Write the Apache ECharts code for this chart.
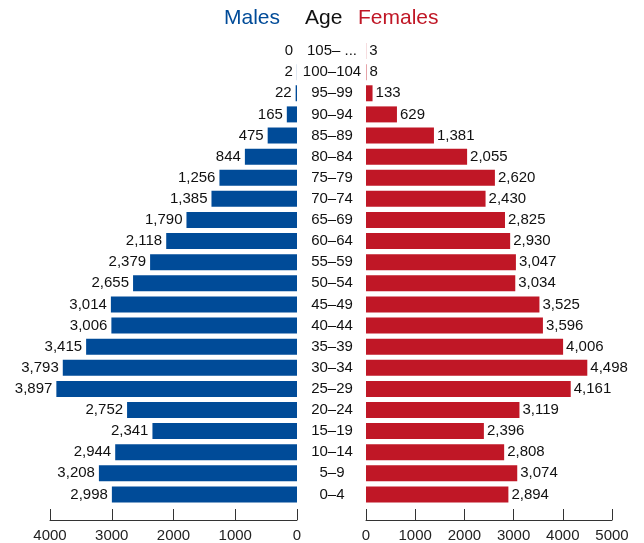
<!DOCTYPE html>
<html>
<head>
<meta charset="utf-8">
<script src="https://cdn.jsdelivr.net/npm/echarts@6/dist/echarts.min.js"></script>
<style>
html,body{margin:0;padding:0;background:#fff;}
#c{width:644px;height:543px;}
</style>
</head>
<body>
<div id="c"></div>
<script>
var ageGroups = ['0–4','5–9','10–14','15–19','20–24','25–29','30–34','35–39','40–44','45–49','50–54','55–59','60–64','65–69','70–74','75–79','80–84','85–89','90–94','95–99','100–104','105– ...'];
var males = [2998,3208,2944,2341,2752,3897,3793,3415,3006,3014,2655,2379,2118,1790,1385,1256,844,475,165,22,2,0];
var females = [2894,3074,2808,2396,3119,4161,4498,4006,3596,3525,3034,3047,2930,2825,2430,2620,2055,1381,629,133,8,3];
var maleTicks = [0,1000,2000,3000,4000];
var femaleTicks = [0,1000,2000,3000,4000,5000];

var FONT = "'Liberation Sans', Arial, Helvetica, sans-serif";
var BLUE = '#004b98';
var RED = '#c01726';
function fmt(v){ return String(v).replace(/\B(?=(\d{3})+(?!\d))/g, ','); }

var chart = echarts.init(document.getElementById('c'), null, {renderer:'canvas'});
var axisCommon = {
  type:'value', position:'bottom', offset:15,
  axisLine:{show:true, lineStyle:{color:'#333', width:1}},
  axisTick:{show:true, inside:true, length:11, lineStyle:{color:'#333'}},
  axisLabel:{color:'#222', fontSize:15, fontFamily:FONT, margin:8, formatter:function(v){return String(v);}},
  splitLine:{show:false}
};
chart.setOption({
  animation:false,
  textStyle:{fontFamily:FONT},
  title:[
    {text:'Males', left:224, top:8, padding:0, textStyle:{color:BLUE, fontSize:21, fontWeight:'normal', fontFamily:FONT}},
    {text:'Age', left:305, top:8, padding:0, textStyle:{color:'#111', fontSize:21, fontWeight:'normal', fontFamily:FONT}},
    {text:'Females', left:358, top:8, padding:0, textStyle:{color:RED, fontSize:21, fontWeight:'normal', fontFamily:FONT}}
  ],
  grid:[
    {left:50, right:347, top:40.5, bottom:37},
    {left:366, right:32, top:40.5, bottom:37}
  ],
  xAxis:[
    Object.assign({}, axisCommon, {gridIndex:0, inverse:true, min:maleTicks[0], max:maleTicks[maleTicks.length-1], interval:maleTicks[1]-maleTicks[0]}),
    Object.assign({}, axisCommon, {gridIndex:1, min:femaleTicks[0], max:femaleTicks[femaleTicks.length-1], interval:femaleTicks[1]-femaleTicks[0]})
  ],
  yAxis:[
    {type:'category', gridIndex:0, data:ageGroups, position:'right',
     axisLine:{show:false}, axisTick:{show:false},
     axisLabel:{show:true, align:'center', margin:35, color:'#111', fontSize:15, fontFamily:FONT, interval:0}},
    {type:'category', gridIndex:1, data:ageGroups, show:false}
  ],
  series:[
    {type:'bar', name:'Males', xAxisIndex:0, yAxisIndex:0, data:males, barWidth:16,
     itemStyle:{color:BLUE},
     label:{show:true, position:'left', distance:4, color:'#111', fontSize:15, fontFamily:FONT,
            formatter:function(p){return fmt(p.value);}}},
    {type:'bar', name:'Females', xAxisIndex:1, yAxisIndex:1, data:females, barWidth:16,
     itemStyle:{color:RED},
     label:{show:true, position:'right', distance:3, color:'#111', fontSize:15, fontFamily:FONT,
            formatter:function(p){return fmt(p.value);}}}
  ]
});
</script>
</body>
</html>
